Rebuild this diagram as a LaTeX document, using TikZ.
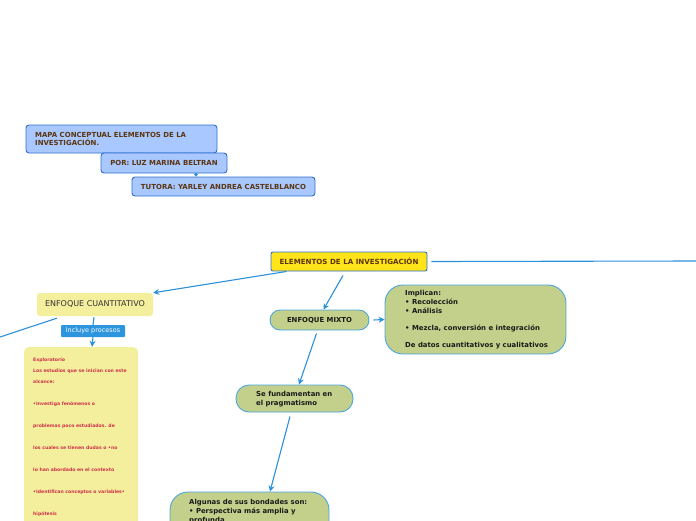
\documentclass[tikz,border=0pt]{standalone}
\usepackage{fontspec}
\setmainfont{DejaVu Sans}
\usetikzlibrary{arrows.meta,calc}
\definecolor{conn}{HTML}{2B91DB}
\definecolor{tblue}{HTML}{A9C8FF}
\definecolor{tbord}{HTML}{2E6FD0}
\definecolor{brown}{HTML}{5A3510}
\definecolor{yel}{HTML}{FFE419}
\definecolor{pyel}{HTML}{F3EF9D}
\definecolor{grn}{HTML}{C3D08B}
\definecolor{gbord}{HTML}{4AA5E0}
\definecolor{redt}{HTML}{D0304A}
\definecolor{ibox}{HTML}{2C95DD}
\tikzset{
  titlebox/.style={draw=tbord,fill=tblue,line width=0.9pt,rounded corners=3pt,inner sep=0pt,text=brown,font=\fontsize{6.95}{8}\selectfont\bfseries},
  mainbox/.style={draw=tbord,fill=yel,line width=0.9pt,rounded corners=2pt,inner sep=0pt,text=brown,font=\fontsize{7.1}{8}\selectfont\bfseries},
  cuantbox/.style={fill=pyel,rounded corners=3pt,inner sep=0pt,text=black!80,font=\fontsize{8}{9}\selectfont},
  greenbox/.style={draw=gbord,fill=grn,line width=0.9pt,inner sep=0pt,text=black!90,font=\fontsize{6.9}{8.6}\selectfont\bfseries},
  gtext/.style={anchor=north west,inner sep=0pt,align=left,font=\fontsize{6.9}{8.6}\selectfont\bfseries,text=black!90},
  conline/.style={draw=conn,line width=1.1pt},
  conarrow/.style={conline,-{Stealth[length=6pt,width=6pt]}},
}
\begin{document}
\begin{tikzpicture}[x=1pt,y=-1pt]
\useasboundingbox (0,0) rectangle (696,520);
\clip (0,0) rectangle (696,520);
% title boxes
\node[titlebox,minimum width=191pt,minimum height=28pt] (mapa) at (121.5,139) {};
\node[anchor=west,text=brown,font=\fontsize{6.95}{8}\selectfont\bfseries,align=left,inner sep=0pt] (mapat) at (35,139) {MAPA CONCEPTUAL ELEMENTOS DE LA\\INVESTIGACIÓN.};
\node[titlebox,minimum width=126pt,minimum height=20pt] (por) at (164,163) {POR: LUZ MARINA BELTRAN};
\node[titlebox,minimum width=183pt,minimum height=19pt] (tutora) at (223.5,186.5) {TUTORA: YARLEY ANDREA CASTELBLANCO};
\draw[conarrow,-{Stealth[length=3pt,width=5pt]}] ($(por.south)+(32,0)$) -- ($(tutora.north)+(-27.5,0)$);
% main
\node[mainbox,minimum width=156pt,minimum height=19pt] (elem) at (349,261.5) {ELEMENTOS DE LA INVESTIGACIÓN};
\coordinate (rightend) at (696,261);
\draw[conline] ($(elem.east)+(4,0)$) -- (rightend);
% cuantitativo
\node[cuantbox,minimum width=116pt,minimum height=23pt] (cuant) at (95,304.5) {ENFOQUE CUANTITATIVO};
\draw[conarrow] ($(elem.south west)+(16,0)$) -- (cuant.north east);
\coordinate (leftend) at (0,337);
\draw[conline] ($(cuant.south west)+(20,2)$) -- (leftend);
\node[fill=ibox,text=white,rounded corners=1pt,inner sep=0pt,minimum width=64pt,minimum height=12pt,font=\fontsize{6.5}{7}\selectfont] (incl) at (93,331) {Incluye procesos};
\node[fill=pyel,rounded corners=5pt,inner sep=0pt,minimum width=114pt,minimum height=190pt] (expl) at (81,442) {};
\draw[conline] ($(cuant.south)+(-1,1)$) -- (incl.north);
\draw[conarrow] (incl.south) -- ($(expl.north)+(11,0)$);
\node[anchor=north west,inner sep=0pt,align=left,text=redt,font=\fontsize{4.6}{11}\selectfont\bfseries] (explt) at (33,358) {Exploratorio\\
Los estudios que se inician con este\\
alcance:\\[11pt]
•Investiga fenómenos o\\[11pt]
problemas poco estudiados. de\\[11pt]
los cuales se tienen dudas o •no\\[11pt]
lo han abordado en el contexto\\[11pt]
•Identifican conceptos o variables•\\[11pt]
hipótesis};
% mixto
\node[greenbox,rounded corners=10pt,minimum width=99pt,minimum height=20pt] (mixto) at (319.5,320) {ENFOQUE MIXTO};
\draw[conarrow] ($(elem.south)+(-6,4)$) -- ($(mixto.north)+(4,0)$);
\node[greenbox,rounded corners=18pt,minimum width=181pt,minimum height=69pt] (impl) at (475.5,319.5) {};
\node[gtext] (implt) at (405,290.5) {Implican:\\
• Recolección\\
• Análisis\\[8.6pt]
• Mezcla, conversión e integración\\[8.6pt]
De datos cuantitativos y cualitativos};
\draw[conarrow] ($(mixto.east)+(4,0)$) -- (impl.west);
\node[greenbox,rounded corners=13pt,minimum width=117pt,minimum height=27pt] (sefund) at (294.5,398.5) {};
\node[gtext] (sefundt) at (256,391.5) {Se fundamentan en\\el pragmatismo};
\draw[conarrow] ($(mixto.south)+(-3,3)$) -- ($(sefund.north)+(4.5,0)$);
\node[greenbox,rounded corners=18pt,minimum width=159pt,minimum height=70pt] (alg) at (249.5,527) {};
\node[gtext] (algt) at (189,499.5) {Algunas de sus bondades son:\\
• Perspectiva más amplia y\\
profunda};
\draw[conarrow] ($(sefund.south)+(-4.5,4)$) -- ($(alg.north)+(20.5,0)$);
\end{tikzpicture}
\end{document}
